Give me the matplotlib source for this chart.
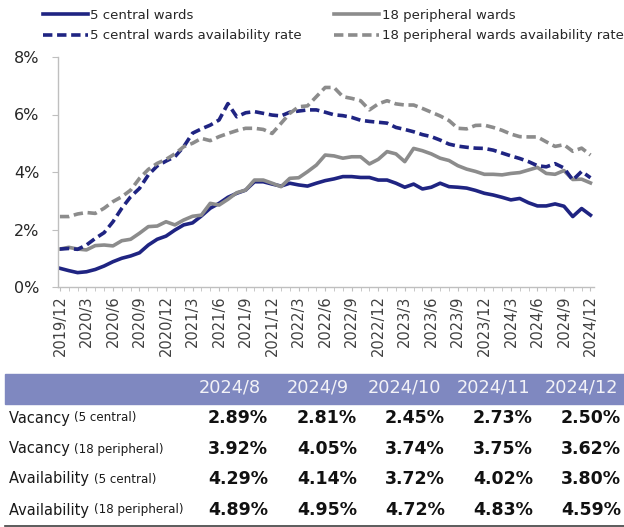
import numpy as np
import matplotlib
matplotlib.use("Agg")
from matplotlib import pyplot as plt
from matplotlib.patches import Rectangle
from matplotlib.lines import Line2D

# monthly data 2019/12 .. 2024/12 (%)
months = []
y, m = 2019, 12
for k in range(61):
    months.append("%d/%d" % (y, m))
    m += 1
    if m > 12:
        y, m = y + 1, 1

central_vac = [0.65, 0.57, 0.50, 0.53, 0.61, 0.73, 0.88, 1.00, 1.08, 1.19,
               1.46, 1.66, 1.77, 1.98, 2.16, 2.23, 2.47, 2.74, 2.91, 3.12,
               3.26, 3.37, 3.66, 3.66, 3.58, 3.51, 3.61, 3.55, 3.51, 3.61,
               3.70, 3.76, 3.84, 3.84, 3.81, 3.81, 3.72, 3.72, 3.61, 3.47,
               3.58, 3.41, 3.47, 3.61, 3.49, 3.47, 3.44, 3.36, 3.26, 3.20,
               3.12, 3.03, 3.08, 2.93, 2.82, 2.82, 2.89, 2.81, 2.45, 2.73,
               2.50]
peri_vac = [1.32, 1.38, 1.32, 1.29, 1.44, 1.46, 1.43, 1.61, 1.66, 1.87,
            2.10, 2.12, 2.27, 2.16, 2.33, 2.46, 2.50, 2.91, 2.85, 3.05,
            3.28, 3.37, 3.72, 3.72, 3.61, 3.49, 3.78, 3.80, 4.01, 4.24,
            4.59, 4.56, 4.48, 4.53, 4.53, 4.28, 4.44, 4.71, 4.63, 4.36,
            4.82, 4.74, 4.63, 4.48, 4.40, 4.22, 4.10, 4.02, 3.92, 3.92,
            3.90, 3.95, 3.98, 4.07, 4.16, 3.95, 3.92, 4.05, 3.74, 3.75,
            3.62]
central_avail = [1.32, 1.34, 1.31, 1.46, 1.69, 1.89, 2.27, 2.74, 3.14, 3.43,
                 3.90, 4.21, 4.38, 4.53, 4.88, 5.35, 5.50, 5.63, 5.81, 6.38,
                 5.92, 6.06, 6.10, 6.04, 5.98, 5.95, 6.08, 6.12, 6.16, 6.16,
                 6.08, 5.99, 5.96, 5.90, 5.80, 5.76, 5.73, 5.70, 5.55, 5.48,
                 5.40, 5.30, 5.23, 5.11, 4.97, 4.90, 4.86, 4.83, 4.82, 4.76,
                 4.66, 4.56, 4.47, 4.36, 4.22, 4.18, 4.29, 4.14, 3.72, 4.02,
                 3.80]
peri_avail = [2.45, 2.45, 2.54, 2.59, 2.56, 2.74, 2.97, 3.14, 3.37, 3.78,
              4.09, 4.30, 4.44, 4.63, 4.88, 5.00, 5.17, 5.09, 5.23, 5.34,
              5.44, 5.52, 5.52, 5.48, 5.34, 5.69, 6.04, 6.27, 6.30, 6.62,
              6.94, 6.94, 6.62, 6.56, 6.48, 6.16, 6.37, 6.48, 6.37, 6.33,
              6.33, 6.21, 6.08, 5.95, 5.79, 5.52, 5.50, 5.62, 5.63, 5.55,
              5.45, 5.32, 5.23, 5.22, 5.22, 5.05, 4.89, 4.95, 4.72, 4.83,
              4.59]

# table
table_cols = ["2024/8", "2024/9", "2024/10", "2024/11", "2024/12"]
table_rows = [("Vacancy", "(5 central)"),
              ("Vacancy", "(18 peripheral)"),
              ("Availability", "(5 central)"),
              ("Availability", "(18 peripheral)")]
table_vals = [["2.89%", "2.81%", "2.45%", "2.73%", "2.50%"],
              ["3.92%", "4.05%", "3.74%", "3.75%", "3.62%"],
              ["4.29%", "4.14%", "3.72%", "4.02%", "3.80%"],
              ["4.89%", "4.95%", "4.72%", "4.83%", "4.59%"]]

navy = "#1f2482"
grey = "#8c8c8c"
W, H = 624, 527

fig = plt.figure(figsize=(W / 100, H / 100), dpi=100)
ax = fig.add_axes([57.7 / W, 1 - 287 / H, 536.3 / W, 230 / H])

x = np.arange(len(months))
lw = 2.6
dash = (2.6, 1.3)
ax.plot(x, central_vac, color=navy, lw=lw)
ax.plot(x, peri_vac, color=grey, lw=lw)
ax.plot(x, central_avail, color=navy, lw=lw, dashes=dash)
ax.plot(x, peri_avail, color=grey, lw=lw, dashes=dash)

ax.set_xlim(-0.25, 60.4)
ax.set_ylim(0, 8)
ax.set_yticks([0, 2, 4, 6, 8])
ax.set_yticklabels(["%d%%" % v for v in [0, 2, 4, 6, 8]], fontsize=11.5, color="#262626")
ax.set_xticks(x[::3])
ax.set_xticklabels(months[::3], rotation=90, fontsize=10.5, color="#404040")
ax.set_xticks(x, minor=True)
ax.tick_params(axis='y', length=4, color="#bfbfbf", pad=9)
ax.tick_params(axis='x', which='both', length=3, color="#bfbfbf", pad=3)
for s in ['top', 'right']:
    ax.spines[s].set_visible(False)
for s in ['left', 'bottom']:
    ax.spines[s].set_color("#bfbfbf")
    ax.spines[s].set_linewidth(1.0)

# legend, two columns placed by hand
leg_kw = dict(frameon=False, fontsize=9.5, handlelength=3.4, handletextpad=0.2,
              labelspacing=0.55, borderpad=0, borderaxespad=0, loc='upper left')
l1 = fig.legend([Line2D([], [], color=navy, lw=lw), Line2D([], [], color=navy, lw=lw, dashes=dash)],
                ["5 central wards", "5 central wards availability rate"],
                bbox_to_anchor=(43 / W, 1 - 9 / H), **leg_kw)
l2 = fig.legend([Line2D([], [], color=grey, lw=lw), Line2D([], [], color=grey, lw=lw, dashes=dash)],
                ["18 peripheral wards", "18 peripheral wards availability rate"],
                bbox_to_anchor=(334 / W, 1 - 9 / H), **leg_kw)
for lg in (l1, l2):
    for t in lg.get_texts():
        t.set_color("#262626")

# table under the chart
fig.add_artist(Rectangle((5 / W, 1 - 404 / H), 619 / W, 30 / H,
                         transform=fig.transFigure, color="#7f88c0", zorder=0))
head_right = [261, 349, 441, 530, 618]
val_right = [268, 357, 445, 533, 621]
for c, lab in enumerate(table_cols):
    fig.text(head_right[c] / W, 1 - 388 / H, lab, ha='right', va='center',
             fontsize=12.8, color="#f2f2f7")
row_y = [418, 449, 479, 510]
for r, (main, sub) in enumerate(table_rows):
    t = fig.text(9 / W, 1 - row_y[r] / H, main + " ", ha='left', va='center',
                 fontsize=10.5, color="#1a1a1a")
    fig.add_artist(plt.Annotation(sub, xy=(1, 0.5), xycoords=t, va='center',
                                  ha='left', fontsize=8.6, color="#1a1a1a"))
    for c, v in enumerate(table_vals[r]):
        fig.text(val_right[c] / W, 1 - row_y[r] / H, v, ha='right', va='center',
                 fontsize=12.5, fontweight='bold', color="#111111")
fig.add_artist(Line2D([5 / W, 1], [1 - 525.5 / H] * 2, transform=fig.transFigure,
                      color="#404040", lw=1.2))

fig.savefig("out.png", dpi=100)
